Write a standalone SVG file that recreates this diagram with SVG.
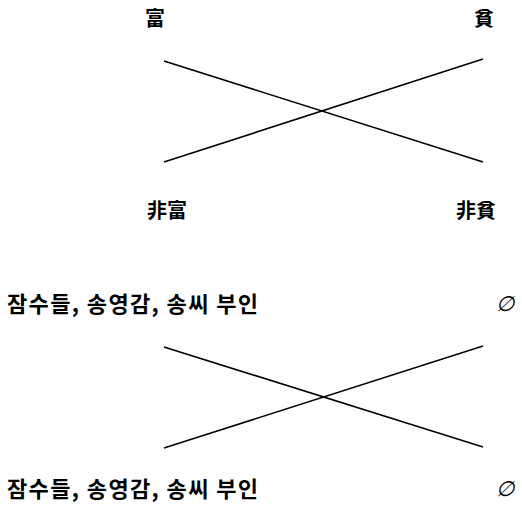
<svg xmlns="http://www.w3.org/2000/svg" width="522" height="507" viewBox="0 0 522 507">
<style>
.t{font-family:"Noto Sans CJK KR","Noto Sans CJK SC",sans-serif;font-size:20px;font-weight:bold;fill:#000}
.k{font-family:"Noto Sans CJK KR",sans-serif;font-size:22px;font-weight:bold;fill:#000}
.e{font-family:"Liberation Serif","DejaVu Serif",serif;font-size:21px;font-style:italic;fill:#000}
.c line{stroke:#000;stroke-width:1.6;fill:none}
</style>
<rect width="522" height="507" fill="#fff"/>
<g id="rich"><text class="t" x="155" y="26" text-anchor="middle">富</text></g>
<g id="poor"><text class="t" x="484" y="26" text-anchor="middle">貧</text></g>
<g id="nonrich"><text class="t" x="167" y="218" text-anchor="middle">非富</text></g>
<g id="nonpoor"><text class="t" x="476" y="218" text-anchor="middle">非貧</text></g>
<g id="people1"><text class="k" x="7" y="312" textLength="251" lengthAdjust="spacing">잠수들, 송영감, 송씨 부인</text></g>
<g id="empty1"><text class="e" x="505" y="311" text-anchor="middle">∅</text></g>
<g id="people2"><text class="k" x="7" y="497" textLength="251" lengthAdjust="spacing">잠수들, 송영감, 송씨 부인</text></g>
<g id="empty2"><text class="e" x="505" y="496" text-anchor="middle">∅</text></g>
<g id="connectors" class="c">
<line x1="164" y1="61" x2="483" y2="162"/>
<line x1="164" y1="162" x2="483" y2="59"/>
<line x1="164" y1="347" x2="483" y2="447"/>
<line x1="164" y1="448" x2="483" y2="346"/>
</g>
</svg>
